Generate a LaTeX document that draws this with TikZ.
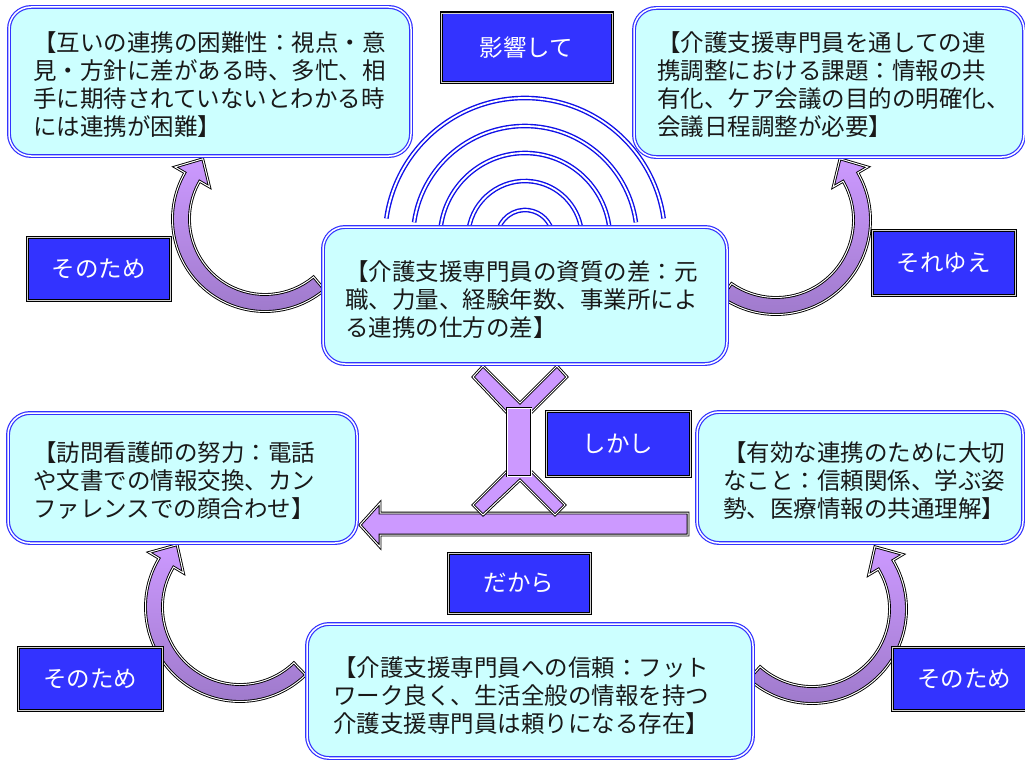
\documentclass[tikz,border=0pt]{standalone}
\usepackage{fontspec}
\newfontfamily\jp{Noto Sans CJK JP}
\usetikzlibrary{calc}
\definecolor{boxfill}{HTML}{CCFFFF}
\definecolor{boxblue}{HTML}{3333FF}
\definecolor{arcblue}{HTML}{1010E8}
\definecolor{lblfill}{HTML}{3333FF}
\definecolor{purlight}{HTML}{CC99FF}
\definecolor{purdark}{HTML}{9C78C8}
\newcommand{\bendarrow}[5]{%
  \draw[bendshape] ($(#1)+({#3}:{#2+8.5})$) arc[start angle=#3, end angle=#4, radius=#2+8.5]
    -- ($(#1)+({#4}:{#2+20})$) -- ($(#1)+({#4}:{#2})+({#4#5}:21)$) -- ($(#1)+({#4}:{#2-20})$)
    -- ($(#1)+({#4}:{#2-8.5})$) arc[start angle=#4, end angle=#3, radius=#2-8.5] -- cycle;}
\begin{document}
\begin{tikzpicture}[x=1pt,y=-1pt,
  infobox/.style={rectangle, rounded corners=22pt, draw=boxblue, double=white, double distance=1.5pt, line width=1.2pt, fill=boxfill, inner sep=0pt},
  infotext/.style={anchor=west, align=left, inner sep=0pt, font=\jp\fontsize{23.5}{28}\selectfont, text=black!90},
  lbl/.style={rectangle, draw=black, double=gray!35, double distance=0.8pt, line width=1.1pt, fill=lblfill, text=white, font=\jp\fontsize{23.5}{28}\selectfont, inner sep=0pt},
  wave/.style={draw=arcblue, double=white, double distance=1.8pt, line width=1.4pt},
  bendshape/.style={draw=black, double=white, double distance=1.0pt, line width=0.9pt, top color=purlight, bottom color=purdark, line join=miter},
  barshape/.style={draw=black, double=white, double distance=1.0pt, line width=0.9pt, fill=purlight, line join=miter},
]
\useasboundingbox (0,0) rectangle (1025,760);
\fill[white] (0,0) rectangle (1025,760);

% concentric waves
\foreach \r in {28,57,85,112,140}
  \draw[wave] (525,238) ++(188:\r) arc[start angle=188, end angle=352, radius=\r];

% curved arrows
\bendarrow{265,219}{84}{50}{210}{+90}
\bendarrow{776,220}{86}{125}{-30}{-90}
\bendarrow{240,607}{86}{46}{211}{+90}
\bendarrow{812,609}{86}{132}{-31}{-90}

% central junction and horizontal arrow
\draw[barshape] (688,513) -- (380,513) -- (380,503) -- (360,525) -- (380,547) -- (380,535) -- (688,535) -- cycle;
\draw[barshape] (473,377) -- (483,366) -- (520,403) -- (557,366) -- (567,377) -- (531,413) -- (507,413) -- cycle;
\draw[barshape] (507,471) -- (531,471) -- (565,505) -- (555,515) -- (520,480) -- (483,515) -- (473,505) -- cycle;
\draw[barshape] (507,408) rectangle (531,476);

% boxes
\node[infobox, minimum width=402pt, minimum height=149pt] (tl) at (210,81.5) {};
\node[infobox, minimum width=390pt, minimum height=149pt] (tr) at (829,82.5) {};
\node[infobox, minimum width=404pt, minimum height=137pt] (mid) at (525,295.5) {};
\node[infobox, minimum width=349pt, minimum height=130pt] (ml) at (182.5,478) {};
\node[infobox, minimum width=326pt, minimum height=131pt] (mr) at (860,477.5) {};
\node[infobox, minimum width=446pt, minimum height=134pt] (bot) at (530,691) {};

\node[infotext] (tltext) at (33,85) {【互いの連携の困難性：視点・意\\見・方針に差がある時、多忙、相\\手に期待されていないとわかる時\\には連携が困難】};
\node[infotext] (trtext) at (657,85) {【介護支援専門員を通しての連\\携調整における課題：情報の共\\有化、ケア会議の目的の明確化、\\会議日程調整が必要】};
\node[infotext] (midtext) at (345,300) {【介護支援専門員の資質の差：元\\職、力量、経験年数、事業所によ\\る連携の仕方の差】};
\node[infotext] (mltext) at (33,481) {【訪問看護師の努力：電話\\や文書での情報交換、カン\\ファレンスでの顔合わせ】};
\node[infotext] (mrtext) at (723,481) {【有効な連携のために大切\\なこと：信頼関係、学ぶ姿\\勢、医療情報の共通理解】};
\node[infotext] (bottext) at (333,695.5) {【介護支援専門員への信頼：フット\\ワーク良く、生活全般の情報を持つ\\介護支援専門員は頼りになる存在】};

% labels
\node[lbl, minimum width=171pt, minimum height=69pt] (eikyo) at (526.5,47.5) {影響して};
\node[lbl, minimum width=143pt, minimum height=63pt] (sonotame1) at (98.5,268.5) {そのため};
\node[lbl, minimum width=143pt, minimum height=65pt] (soreyue) at (943.5,262.5) {それゆえ};
\node[lbl, minimum width=144pt, minimum height=65pt] (shikashi) at (618,443.5) {しかし};
\node[lbl, minimum width=142pt, minimum height=60pt] (dakara) at (519,583) {だから};
\node[lbl, minimum width=144pt, minimum height=63pt] (sonotame2) at (90,678.5) {そのため};
\node[lbl, minimum width=144pt, minimum height=63pt] (sonotame3) at (964,678.5) {そのため};
\end{tikzpicture}
\end{document}
